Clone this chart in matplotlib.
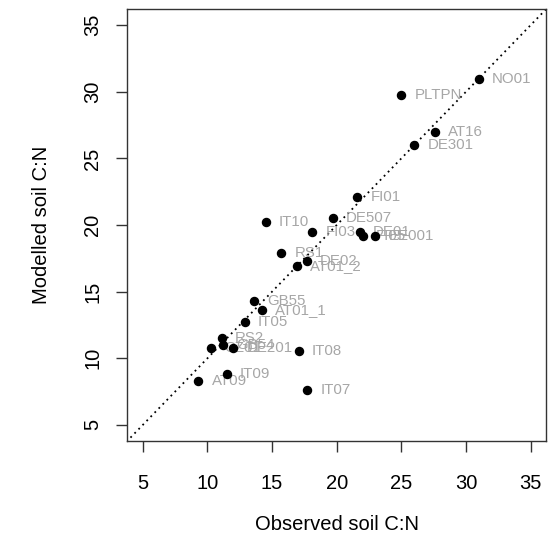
import matplotlib
matplotlib.use("Agg")
import matplotlib.pyplot as plt

# observed vs modelled soil C:N per site
sites = ["NO01", "PLTPN", "AT16", "DE301", "FI01", "IT10", "DE507", "FI03",
         "DE01", "FI05", "EE001", "RS1", "DE02", "AT01_2", "GB55", "AT01_1",
         "IT05", "RS2", "CZ01", "GB54", "DE201", "IT08", "IT09", "AT09", "IT07"]
observed = [31.0, 25.0, 27.6, 26.0, 21.6, 14.5, 19.7, 18.1,
            21.8, 22.0, 23.0, 15.7, 17.7, 16.9, 13.6, 14.2,
            12.9, 11.1, 10.3, 11.2, 12.0, 17.05, 11.5, 9.3, 17.7]
modelled = [31.0, 29.8, 27.0, 26.0, 22.1, 20.2, 20.5, 19.5,
            19.5, 19.2, 19.2, 17.9, 17.3, 16.9, 14.3, 13.65,
            12.75, 11.5, 10.8, 11.0, 10.8, 10.55, 8.8, 8.3, 7.65]
ticks = [5, 10, 15, 20, 25, 30, 35]

plt.rcParams["font.family"] = ["Liberation Sans", "DejaVu Sans"]

fig = plt.figure(figsize=(5.51, 5.43), dpi=100)
ax = fig.add_axes([0.231, 0.188, 0.760, 0.795])

# 1:1 line
ax.plot([0, 40], [0, 40], color="black", linestyle=(0, (1, 2.2)), linewidth=1.3, zorder=1)
ax.plot(observed, modelled, "o", color="black", markersize=5.8, zorder=3)

for name, x, y in zip(sites, observed, modelled):
    ax.annotate(name, (x, y), xytext=(9.5, 0), textcoords="offset points",
                ha="left", va="center", fontsize=10.8, color="#a6a6a6", zorder=2)

ax.set_xlim(3.8, 36.2)
ax.set_ylim(3.8, 36.2)
ax.set_xticks(ticks)
ax.set_yticks(ticks)
ax.tick_params(axis="both", length=8, width=1, labelsize=14.5, color="#333333")
ax.tick_params(axis="x", pad=16)
ax.tick_params(axis="y", pad=10)
for lab in ax.get_yticklabels():
    lab.set_rotation(90)
    lab.set_va("center")

for sp in ax.spines.values():
    sp.set_linewidth(1)
    sp.set_color("#333333")

ax.set_xlabel("Observed soil C:N", fontsize=14.5, labelpad=16)
ax.set_ylabel("Modelled soil C:N", fontsize=14.5, labelpad=23)

fig.savefig("out.png", dpi=100)
